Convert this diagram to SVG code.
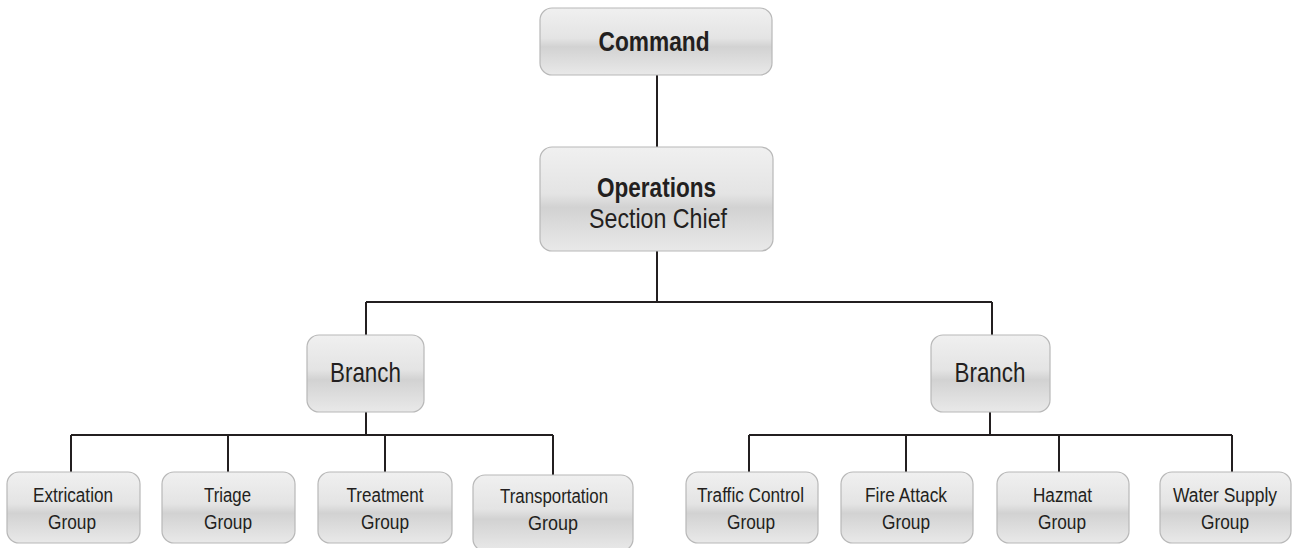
<svg xmlns="http://www.w3.org/2000/svg" width="1293" height="548" viewBox="0 0 1293 548">
<defs>
<linearGradient id="g" x1="0" y1="0" x2="0" y2="1">
<stop offset="0" stop-color="#f0f0f0"/>
<stop offset="0.45" stop-color="#e4e4e4"/>
<stop offset="0.58" stop-color="#d2d2d2"/>
<stop offset="1" stop-color="#e9e9e9"/>
</linearGradient>
</defs>
<style>
.box{fill:url(#g);stroke:#b8b8b8;stroke-width:1.2}
.t{font-family:"Liberation Sans",Arial,sans-serif;fill:#231f20;text-anchor:middle}
.b{font-weight:bold;font-size:28px}
.r{font-size:28px}
.s{font-size:20px}
.c{fill:none;stroke:#231f20;stroke-width:2}
</style>
<rect width="1293" height="548" fill="#ffffff"/>
<g id="connectors">
<path class="c" d="M657 75V147M657 250V302M366 302H992M366 302V335M992 302V335"/>
<path class="c" d="M366 412V435M71 435H553M71 435V472M228 435V472M385 435V472M553 435V475"/>
<path class="c" d="M990 412V435M749 435H1232M749 435V472M906 435V472M1059 435V472M1232 435V472"/>
</g>
<g id="command"><rect class="box" x="540" y="8" width="232" height="67" rx="12"/><text class="t b" x="654" y="51" textLength="111" lengthAdjust="spacingAndGlyphs">Command</text></g>
<g id="operations"><rect class="box" x="540" y="147" width="233" height="104" rx="12"/><text class="t b" x="656.5" y="197" textLength="119" lengthAdjust="spacingAndGlyphs">Operations</text><text class="t r" x="658" y="228" textLength="138" lengthAdjust="spacingAndGlyphs">Section Chief</text></g>
<g id="branch-left"><rect class="box" x="307" y="335" width="117" height="77" rx="12"/><text class="t r" x="365.5" y="382" textLength="71" lengthAdjust="spacingAndGlyphs">Branch</text></g>
<g id="branch-right"><rect class="box" x="931" y="335" width="119" height="77" rx="12"/><text class="t r" x="990" y="382" textLength="71" lengthAdjust="spacingAndGlyphs">Branch</text></g>
<g id="extrication"><rect class="box" x="7" y="472" width="133" height="71" rx="12"/><text class="t s" x="73" y="502" textLength="80" lengthAdjust="spacingAndGlyphs">Extrication</text><text class="t s" x="72" y="529" textLength="48" lengthAdjust="spacingAndGlyphs">Group</text></g>
<g id="triage"><rect class="box" x="162" y="472" width="133" height="71" rx="12"/><text class="t s" x="227.5" y="502" textLength="47" lengthAdjust="spacingAndGlyphs">Triage</text><text class="t s" x="228" y="529" textLength="48" lengthAdjust="spacingAndGlyphs">Group</text></g>
<g id="treatment"><rect class="box" x="318" y="472" width="134" height="71" rx="12"/><text class="t s" x="385" y="502" textLength="77" lengthAdjust="spacingAndGlyphs">Treatment</text><text class="t s" x="385" y="529" textLength="48" lengthAdjust="spacingAndGlyphs">Group</text></g>
<g id="transportation"><rect class="box" x="473" y="475" width="160" height="76" rx="12"/><text class="t s" x="554" y="503" textLength="108" lengthAdjust="spacingAndGlyphs">Transportation</text><text class="t s" x="553" y="530" textLength="50" lengthAdjust="spacingAndGlyphs">Group</text></g>
<g id="traffic"><rect class="box" x="686" y="472" width="132" height="71" rx="12"/><text class="t s" x="750.5" y="502" textLength="107" lengthAdjust="spacingAndGlyphs">Traffic Control</text><text class="t s" x="751" y="529" textLength="48" lengthAdjust="spacingAndGlyphs">Group</text></g>
<g id="fire"><rect class="box" x="841" y="472" width="132" height="71" rx="12"/><text class="t s" x="906" y="502" textLength="82" lengthAdjust="spacingAndGlyphs">Fire Attack</text><text class="t s" x="906" y="529" textLength="48" lengthAdjust="spacingAndGlyphs">Group</text></g>
<g id="hazmat"><rect class="box" x="997" y="472" width="132" height="71" rx="12"/><text class="t s" x="1062.5" y="502" textLength="59" lengthAdjust="spacingAndGlyphs">Hazmat</text><text class="t s" x="1062" y="529" textLength="48" lengthAdjust="spacingAndGlyphs">Group</text></g>
<g id="water"><rect class="box" x="1160" y="472" width="131" height="71" rx="12"/><text class="t s" x="1225" y="502" textLength="104" lengthAdjust="spacingAndGlyphs">Water Supply</text><text class="t s" x="1225" y="529" textLength="48" lengthAdjust="spacingAndGlyphs">Group</text></g>
</svg>
